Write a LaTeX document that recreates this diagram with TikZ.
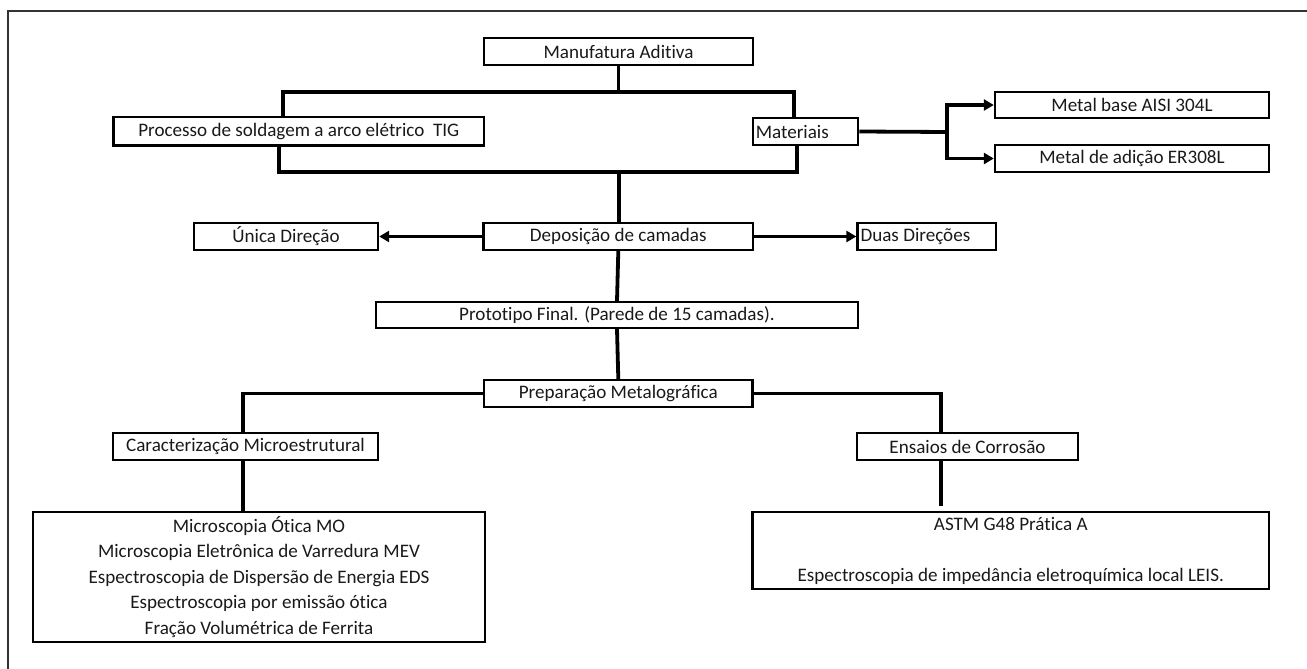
\documentclass[tikz,border=0pt]{standalone}
\usepackage{fontspec}
\setmainfont{Carlito}[Ligatures=NoCommon]
\usetikzlibrary{arrows.meta}

\tikzset{
  box/.style={draw, line width=2.4pt, inner sep=0pt, minimum height=27pt,
    font=\fontsize{19.1}{25.5}\selectfont, text=black!90},
  leftbox/.style={box, inner xsep=3pt,
    execute at begin node={\hbox to #1\bgroup}, execute at end node={\hss\egroup}},
  conn/.style={line width=3.8pt},
  arr/.style={conn, -{Triangle[length=10pt,width=11pt]}}
}

\begin{document}
\begin{tikzpicture}[x=1pt,y=-1pt]

    \useasboundingbox (0,0) rectangle (1307,669);
    \draw[line width=2pt, black!80] (7.5,669) -- (7.5,11) -- (1307,11);

    \node[box, minimum width=269pt] (manuf) at (618.5,51.5) {Manufatura Aditiva};
    \node[box, minimum width=370.5pt, minimum height=28.5pt] (tig) at (298.8,131.3) {Processo de soldagem a arco elétrico\ \ TIG};
    \node[leftbox=99.3pt] (mat) at (805.4,131.5) {Materiais};
    \node[box, minimum width=274pt, minimum height=26pt] (base) at (1132,105) {Metal base AISI 304L};
    \node[box, minimum width=274pt] (adic) at (1132,158.5) {Metal de adição ER308L};
    \node[box, minimum width=269.5pt] (depos) at (618.3,236.5) {Deposição de camadas};
    \node[box, minimum width=184pt] (unica) at (286,236.5) {Única Direção};
    \node[leftbox=132.5pt] (duas) at (926.8,236.5) {Duas Direções};
    \node[box, minimum width=482pt, minimum height=26pt] (proto) at (617,315) {Prototipo Final. (Parede de 15 camadas).};
    \node[box, minimum width=268.6pt] (prep) at (618.3,393.5) {Preparação Metalográfica};
    \node[box, minimum width=265pt] (carac) at (245.5,446.5) {Caracterização Microestrutural};
    \node[box, minimum width=221pt] (ensaios) at (967.5,446.5) {Ensaios de Corrosão};
    \node[box, minimum width=452pt, minimum height=130pt, align=center] (tecn) at (259,577)
        {Microscopia Ótica MO\\Microscopia Eletrônica de Varredura MEV\\Espectroscopia de Dispersão de Energia EDS\\Espectroscopia por emissão ótica\\Fração Volumétrica de Ferrita};
    \node[box, minimum width=516.4pt, minimum height=77pt, align=center] (leis) at (1010.8,550.5)
        {ASTM G48 Prática A\\[25.5pt]Espectroscopia de impedância eletroquímica local LEIS.};

    \coordinate (topbar) at (618.5,92);
    \coordinate (botbar) at (619,172);
    \coordinate (split) at (947,132);
    \coordinate (cdrop) at ([xshift=-2.5pt]carac.south);
    \coordinate (edrop) at ([xshift=-26.5pt]ensaios.south);
    \coordinate (etop) at (edrop |- leis.north);

    \draw[conn] (manuf.south) -- (topbar);
    \draw[conn] ([xshift=-16pt]tig.north) |- (topbar) -| ([xshift=-11.4pt]mat.north);
    \draw[conn] ([xshift=-20pt]tig.south) |- (botbar) -| ([xshift=-8.4pt]mat.south);
    \draw[conn] (botbar) -- (botbar |- depos.north);
    \draw[conn] (mat.east) -- (split);
    \draw[arr] (split) |- (base.west);
    \draw[arr] (split) |- (adic.west);
    \draw[arr] (depos.west) -- (unica.east);
    \draw[arr] (depos.east) -- (duas.west);
    \draw[conn] (depos.south) -- (proto.north);
    \draw[conn] (proto.south) -- (prep.north);
    \draw[conn] (prep.west) -| ([xshift=-2.5pt]carac.north);
    \draw[conn] (prep.east) -| ([xshift=-26.5pt]ensaios.north);
    \draw[conn] (cdrop) -- (cdrop |- tecn.north);
    \draw[conn] (edrop) -- ([yshift=5pt]etop);

\end{tikzpicture}
\end{document}
